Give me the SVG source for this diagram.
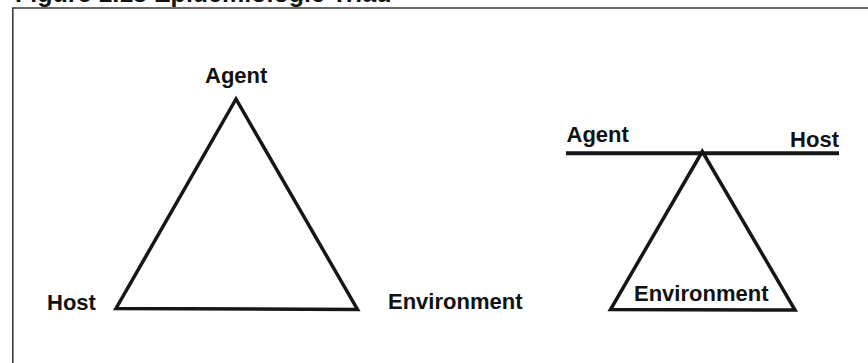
<svg xmlns="http://www.w3.org/2000/svg" width="868" height="363" viewBox="0 0 868 363">
  <style>
    .lbl { font-family: "Liberation Sans", Arial, sans-serif; font-weight: bold; font-size: 22px; fill: #111; }
    .title { font-family: "Liberation Sans", Arial, sans-serif; font-weight: bold; font-size: 25px; fill: #111; }
    .tri { fill: none; stroke: #161616; stroke-width: 3.5; stroke-linejoin: miter; stroke-miterlimit: 10; }
    .frame { fill: none; stroke: #3a3a3a; stroke-width: 1.6; }
  </style>
  <rect x="0" y="0" width="868" height="363" fill="#ffffff"/>
  <g id="title">
    <text class="title" x="15" y="2">Figure 1.13  Epidemiologic Triad</text>
  </g>
  <g id="frame">
    <path class="frame" d="M12.8,363 V8 H868"/>
  </g>
  <g id="triad-left">
    <polygon class="tri" points="236,99 116,308.5 357.5,309.5"/>
    <text id="left-agent" class="lbl" x="205" y="83">Agent</text>
    <text id="left-host" class="lbl" x="47" y="310">Host</text>
    <text id="left-environment" class="lbl" x="388" y="309">Environment</text>
  </g>
  <g id="triad-right">
    <line x1="566" y1="153.3" x2="839" y2="153.3" stroke="#161616" stroke-width="4"/>
    <polygon class="tri" points="702.3,151.5 610.5,309.5 795,310"/>
    <text id="right-agent" class="lbl" x="566.5" y="141.5">Agent</text>
    <text id="right-host" class="lbl" x="839" y="146.5" text-anchor="end">Host</text>
    <text id="right-environment" class="lbl" x="634" y="301">Environment</text>
  </g>
</svg>
